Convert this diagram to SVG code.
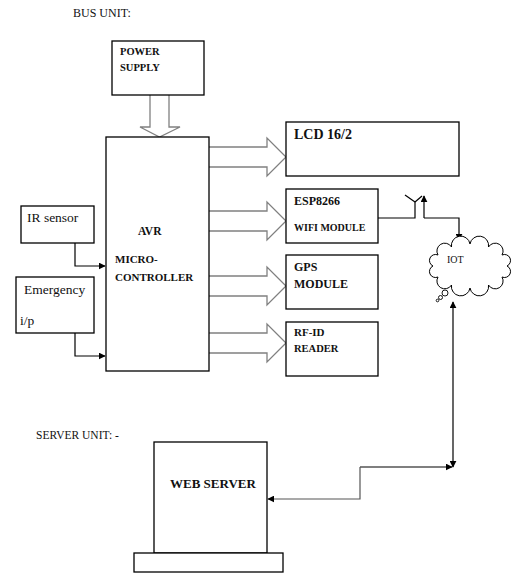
<svg xmlns="http://www.w3.org/2000/svg" width="531" height="583" viewBox="0 0 531 583" font-family="'Liberation Serif', 'Times New Roman', serif">
<style>
.box{fill:#fff;stroke:#000;stroke-width:1.3}
.t{font-family:"Liberation Serif","Times New Roman",serif;fill:#111}
.b{font-family:"Liberation Serif","Times New Roman",serif;font-weight:bold;fill:#111}
.fat{fill:#fff;stroke:#808080;stroke-width:1.3}
.ln{fill:none;stroke:#000;stroke-width:1.2}
.lg{fill:none;stroke:#555;stroke-width:1.2}
</style>
<defs>
<marker id="ah" viewBox="0 0 10 10" refX="9" refY="5" markerWidth="7" markerHeight="7" markerUnits="userSpaceOnUse" orient="auto">
<path d="M0,0 L10,5 L0,10 z" fill="#000"/>
</marker>
</defs>
<rect width="531" height="583" fill="#fff"/>
<text class="t" x="73" y="17" font-size="12">BUS UNIT:</text>
<text class="t" x="36" y="439" font-size="11.5">SERVER UNIT: -</text>

<g id="connectors">
<polyline class="fat" points="150,95 150,127 140,127 159.5,137 180,127 169,127 169,95"/>
<polyline class="fat" points="209,147 267,147 267,138 286,157 267,176 267,167 209,167"/>
<polyline class="fat" points="209,211 267,211 267,202 286,221 267,240 267,231 209,231"/>
<polyline class="fat" points="209,276 267,276 267,267 286,286 267,305 267,296 209,296"/>
<polyline class="fat" points="209,333 267,333 267,324 286,343 267,362 267,353 209,353"/>
<polyline class="ln" points="75,243 75,266 105,266" marker-end="url(#ah)"/>
<polyline class="ln" points="75,333 75,356 105,356" marker-end="url(#ah)"/>
<polyline class="ln" points="378,218 415,218 415,202"/>
<line class="ln" x1="415" y1="202" x2="405" y2="195"/>
<line class="ln" x1="415" y1="202" x2="422" y2="196"/>
<polyline class="ln" points="424,218 424,196" marker-end="url(#ah)"/>
<polyline class="ln" points="424,218 459,218 459,240" marker-end="url(#ah)"/>
<polyline class="ln" points="453,330 453,302" marker-end="url(#ah)"/>
<polyline class="ln" points="453,330 453,467" marker-end="url(#ah)"/>
<polyline class="ln" points="360,467 452,467" marker-end="url(#ah)"/>
<polyline class="lg" points="360,467 360,499 268,499" marker-end="url(#ah)"/>
</g>

<g id="power">
<rect class="box" x="112" y="41" width="92" height="54"/>
<text class="b" x="120" y="55" font-size="10.5">POWER</text>
<text class="b" x="120" y="71" font-size="10.5">SUPPLY</text>
</g>
<g id="avr">
<rect class="box" x="106" y="137" width="103" height="234"/>
<text class="b" x="138" y="235" font-size="11.5">AVR</text>
<text class="b" x="115" y="263" font-size="11">MICRO-</text>
<text class="b" x="115" y="281" font-size="11">CONTROLLER</text>
</g>
<g id="ir">
<rect class="box" x="21" y="206" width="73" height="37"/>
<text class="t" x="27" y="222" font-size="13.5">IR sensor</text>
</g>
<g id="emergency">
<rect class="box" x="16" y="277" width="78" height="56"/>
<text class="t" x="24" y="294" font-size="13.5">Emergency</text>
<text class="t" x="20" y="325" font-size="13.5">i/p</text>
</g>
<g id="lcd">
<rect class="box" x="286" y="122" width="173" height="54"/>
<text class="b" x="294" y="139" font-size="14">LCD 16/2</text>
</g>
<g id="esp">
<rect class="box" x="286" y="189" width="92" height="54"/>
<text class="b" x="294" y="205" font-size="12">ESP8266</text>
<text class="b" x="294" y="231" font-size="10">WIFI MODULE</text>
</g>
<g id="gps">
<rect class="box" x="286" y="255" width="92" height="54"/>
<text class="b" x="294" y="271" font-size="12">GPS</text>
<text class="b" x="294" y="288" font-size="12">MODULE</text>
</g>
<g id="rfid">
<rect class="box" x="286" y="322" width="92" height="54"/>
<text class="b" x="294" y="336" font-size="11">RF-ID</text>
<text class="b" x="294" y="352" font-size="10.5">READER</text>
</g>
<g id="iot">
<path fill="#fff" stroke="#000" stroke-width="1" d="M433,266 A1,1 0 0 1 438,255 A1,1 0 0 1 451.5,247 A1,1 0 0 1 470,244 A1,1 0 0 1 488.5,247 A1,1 0 0 1 502,255 A1,1 0 0 1 507,266 A1,1 0 0 1 502,277 A1,1 0 0 1 488.5,285 A1,1 0 0 1 470,288 A1,1 0 0 1 451.5,285 A1,1 0 0 1 438,277 A1,1 0 0 1 433,266 z"/>
<circle cx="445" cy="293" r="3" fill="#fff" stroke="#000" stroke-width="0.9"/>
<circle cx="440.5" cy="297.5" r="2" fill="#fff" stroke="#000" stroke-width="0.9"/>
<circle cx="437.5" cy="300.5" r="1.3" fill="#fff" stroke="#000" stroke-width="0.9"/>
<text class="t" x="447" y="263" font-size="10">IOT</text>
</g>
<g id="webserver">
<rect class="box" x="154" y="442" width="113" height="111"/>
<rect class="box" x="134" y="553" width="149" height="19"/>
<text class="b" x="170" y="488" font-size="13">WEB SERVER</text>
</g>
</svg>
